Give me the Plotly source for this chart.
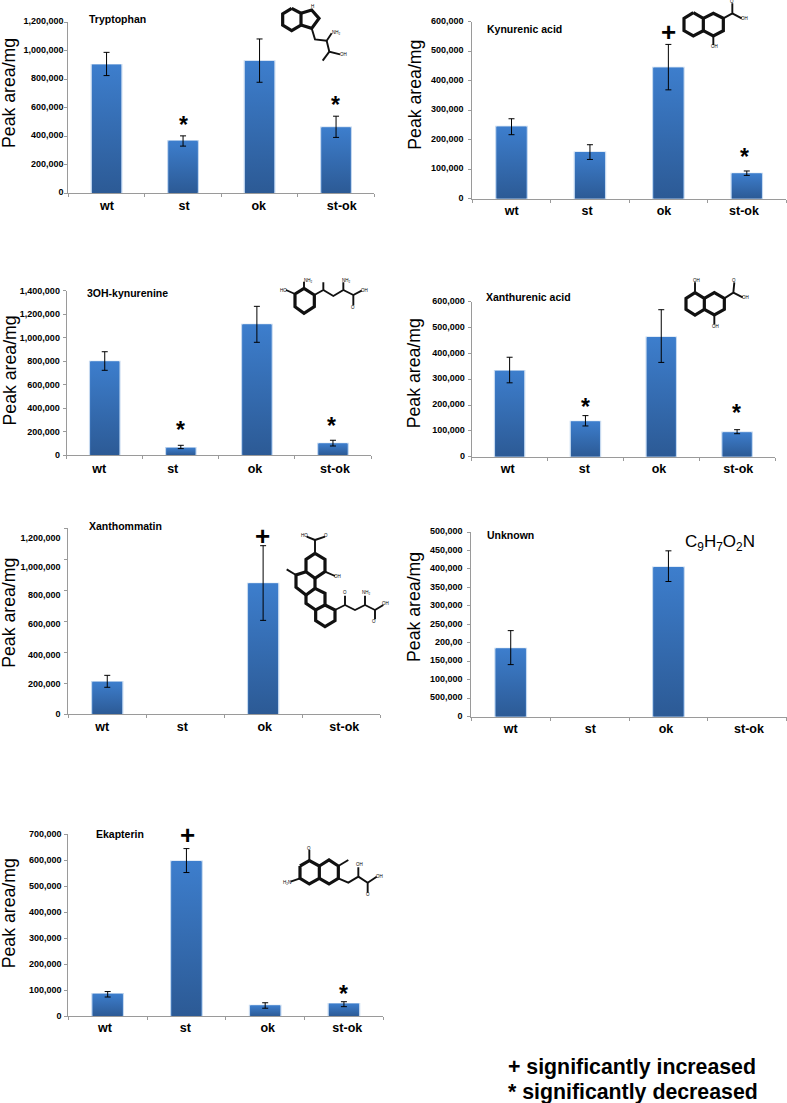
import plotly.graph_objects as go

W, H = 787, 1103
CATEGORIES = ["wt", "st", "ok", "st-ok"]
POS = [0, 1, 2, 3]
FONT = "Liberation Sans"

# ---- data ----
TRP_TICKS = [0, 200000, 400000, 600000, 800000, 1000000, 1200000]
TRP_VALUES = [901000, 366000, 927000, 462000]
TRP_HI = [987000, 401000, 1081000, 539000]
TRP_LO = [824000, 329000, 777000, 390000]

KYN_TICKS = [0, 100000, 200000, 300000, 400000, 500000, 600000]
KYN_VALUES = [245000, 158000, 445000, 86000]
KYN_HI = [271000, 183000, 523000, 94000]
KYN_LO = [217000, 133000, 369000, 79000]

OHK_TICKS = [0, 200000, 400000, 600000, 800000, 1000000, 1200000, 1400000]
OHK_VALUES = [799000, 65000, 1114000, 102000]
OHK_HI = [881000, 85000, 1267000, 128000]
OHK_LO = [723000, 57000, 961000, 79000]

XAN_TICKS = [0, 100000, 200000, 300000, 400000, 500000, 600000]
XAN_VALUES = [333000, 137000, 463000, 95000]
XAN_HI = [385000, 159000, 569000, 104500]
XAN_LO = [286000, 119000, 365000, 89000]

XOM_TICKS = [0, 200000, 400000, 600000, 800000, 1000000, 1200000]
XOM_VALUES = [210000, None, 844000, None]
XOM_HI = [251000, None, 1086000, None]
XOM_LO = [174000, None, 605000, None]

UNK_TICKS = [0, 50000, 100000, 150000, 200000, 250000, 300000, 350000, 400000, 450000, 500000]
UNK_LABELS = ["0", "500,000", "100,000", "150,000", "200,00", "250,000", "300,000",
              "350,000", "400,000", "450,000", "500,000"]
UNK_VALUES = [185000, None, 405000, None]
UNK_HI = [233000, None, 449000, None]
UNK_LO = [141000, None, 366000, None]

EKA_TICKS = [0, 100000, 200000, 300000, 400000, 500000, 600000, 700000]
EKA_VALUES = [87000, 596000, 42000, 49000]
EKA_HI = [95000, 644000, 52000, 56000]
EKA_LO = [74000, 552000, 31000, 37000]

# ---- panel layout (page pixels) ----
PANELS = [
    dict(name="Tryptophan", ticks=TRP_TICKS, v=TRP_VALUES, hi=TRP_HI, lo=TRP_LO,
         x0=68.3, x1=374.3, y0=193.0, y1=22.0, title=(89, 19.3), ytitle=(9, 93),
         xlab=[107, 184, 258.7, 341.7], gap=5.0, shift=1, xstand=1,
         marks=[("*", 183, 121.7), ("*", 335.7, 101.7)]),
    dict(name="Kynurenic acid", ticks=KYN_TICKS, v=KYN_VALUES, hi=KYN_HI, lo=KYN_LO,
         x0=472.3, x1=786.0, y0=198.7, y1=21.7, title=(486.7, 29), ytitle=(415, 94.7),
         xlab=[511.7, 587, 664, 744], gap=9.3, shift=1, xstand=0,
         marks=[("+", 668, 32), ("*", 744.3, 153)]),
    dict(name="3OH-kynurenine", ticks=OHK_TICKS, v=OHK_VALUES, hi=OHK_HI, lo=OHK_LO,
         x0=66.7, x1=371.0, y0=455.3, y1=290.7, title=(86.7, 293), ytitle=(9, 370.5),
         xlab=[99.3, 172.7, 255, 335], gap=6.7, shift=0, xstand=2,
         marks=[("*", 180, 426.7), ("*", 331.3, 422.7)]),
    dict(name="Xanthurenic acid", ticks=XAN_TICKS, v=XAN_VALUES, hi=XAN_HI, lo=XAN_LO,
         x0=471.7, x1=775.0, y0=456.7, y1=301.7, title=(486, 296.7), ytitle=(414, 373.3),
         xlab=[507.7, 584.3, 659, 738.3], gap=7.4, shift=1, xstand=0,
         marks=[("*", 585.3, 403.3), ("*", 736, 409.3)]),
    dict(name="Xanthommatin", ticks=XOM_TICKS, v=XOM_VALUES, hi=XOM_HI, lo=XOM_LO,
         x0=68.3, x1=380.0, y0=714.3, y1=528.0, title=(89.3, 526.3), ytitle=(9, 612.8),
         xlab=[102.3, 182.3, 264.7, 344.3], gap=8.3, shift=0, xstand=1,
         label_px=[0, 0.7, 3, 3, 5, 7.3, 9.7],
         marks=[("+", 262.7, 536)]),
    dict(name="Unknown", ticks=UNK_TICKS, labels=UNK_LABELS, v=UNK_VALUES, hi=UNK_HI, lo=UNK_LO,
         x0=471.3, x1=786.7, y0=716.7, y1=532.0, title=(486.7, 535), ytitle=(413.3, 606.7),
         xlab=[510.7, 590.3, 666, 749], gap=9.3, shift=1, xstand=0, marks=[]),
    dict(name="Ekapterin", ticks=EKA_TICKS, v=EKA_VALUES, hi=EKA_HI, lo=EKA_LO,
         x0=68.3, x1=383.3, y0=1016.3, y1=834.0, title=(95.7, 833.7), ytitle=(9, 913.3),
         xlab=[105, 185.3, 267.7, 347.3], gap=7.3, shift=0, xstand=0,
         marks=[("+", 187, 835), ("*", 343.3, 990)]),
]

# ---- molecule sketches: polylines in 1/3 px units with their page origin ----
MOLECULES = [
    dict(origin=(270, 0), lines=[
        [(65, 25), (93, 40), (93, 75), (65, 92), (38, 75), (38, 42), (65, 25)],
        [(93, 40), (125, 30), (147, 55), (125, 85), (93, 75)],
        [(125, 85), (135, 118), (170, 122), (185, 100)],
        [(170, 122), (178, 155), (210, 163)],
        [(178, 155), (158, 182)]],
        atoms=[("H", 127, 18), ("NH₂", 200, 98), ("OH", 220, 163)]),
    dict(origin=(670, 0), lines=[
        [(70, 38), (100, 55), (100, 92), (70, 108), (42, 92), (42, 55), (70, 38)],
        [(100, 55), (130, 40), (160, 55), (160, 92), (130, 108), (100, 92)],
        [(160, 55), (187, 40), (187, 10)],
        [(187, 40), (215, 55)],
        [(130, 108), (130, 135)]],
        atoms=[("O", 187, 4), ("OH", 224, 56), ("OH", 132, 140)]),
    dict(origin=(280, 280), lines=[
        [(45, 42), (72, 25), (103, 45), (103, 80), (72, 100), (45, 80), (45, 42)],
        [(45, 42), (18, 30)],
        [(72, 25), (72, 5)],
        [(103, 45), (130, 30), (130, 7)],
        [(130, 30), (160, 48), (190, 30), (190, 7)],
        [(190, 30), (220, 45), (220, 76)],
        [(220, 45), (245, 32)]],
        atoms=[("HO", 10, 30), ("NH₂", 84, 0), ("NH₂", 200, 0), ("O", 220, 82), ("OH", 254, 30)]),
    dict(origin=(675, 270), lines=[
        [(60, 68), (88, 85), (88, 118), (60, 135), (33, 118), (33, 85), (60, 68)],
        [(88, 85), (118, 68), (148, 85), (148, 118), (118, 135), (88, 118)],
        [(60, 68), (60, 37)],
        [(148, 85), (175, 68), (178, 37)],
        [(175, 68), (203, 82)],
        [(118, 135), (118, 163)]],
        atoms=[("OH", 65, 31), ("O", 178, 30), ("OH", 210, 82), ("OH", 122, 168)]),
    dict(origin=(0, 500), lines=[
        [(945, 160), (975, 178), (975, 215), (945, 235), (918, 215), (918, 178), (945, 160)],
        [(945, 235), (945, 265), (918, 285), (888, 262), (888, 225), (918, 215)],
        [(945, 265), (975, 280), (975, 315), (947, 330), (918, 310), (918, 285)],
        [(975, 315), (1005, 330), (1005, 362), (975, 380), (947, 362), (947, 330)],
        [(945, 160), (945, 120), (920, 110)],
        [(945, 120), (975, 110)],
        [(975, 215), (1005, 228)],
        [(888, 225), (860, 208)],
        [(1005, 330), (1035, 315), (1035, 287)],
        [(1035, 315), (1065, 330), (1095, 315), (1095, 287)],
        [(1095, 315), (1125, 330), (1125, 358)],
        [(1125, 330), (1150, 315)]],
        atoms=[("HO", 912, 107), ("O", 977, 107), ("OH", 1012, 228), ("O", 1036, 277),
               ("NH₂", 1100, 278), ("OH", 1157, 311), ("O", 1123, 363)]),
    dict(origin=(0, 810), lines=[
        [(900, 168), (928, 152), (958, 168), (958, 205), (928, 222), (900, 205), (900, 168)],
        [(958, 168), (987, 150), (1015, 168), (1015, 205), (987, 222), (958, 205)],
        [(928, 152), (928, 120)],
        [(1015, 168), (1045, 150)],
        [(900, 205), (872, 215)],
        [(1015, 205), (1045, 218), (1075, 200), (1075, 172)],
        [(1075, 200), (1103, 218), (1103, 248)],
        [(1103, 218), (1130, 200)]],
        atoms=[("O", 928, 114), ("H₂N", 860, 216), ("OH", 1078, 164), ("O", 1103, 252), ("OH", 1138, 198)]),
]

BAR_TOP, BAR_BOTTOM = "#3d7ecd", "#2c5a95"
BAR_EDGE = "#c6d9ef"
AXIS = "#9a9a9a"

fig = go.Figure()
annotations = []
layout = dict(width=W, height=H, margin=dict(l=0, r=0, t=0, b=0, pad=0, autoexpand=False), autosize=False,
              paper_bgcolor="white", plot_bgcolor="rgba(0,0,0,0)", showlegend=False,
              font=dict(family=FONT, color="black"))


def note(text, x, y, size, bold=True, xanchor="center", angle=0):
    annotations.append(dict(text=f"<b>{text}</b>" if bold else text, x=x, y=y, xref="x8", yref="y8",
                            showarrow=False, xanchor=xanchor, yanchor="middle", textangle=angle,
                            font=dict(family=FONT, size=size, color="black"), borderpad=0, borderwidth=0))


for i, p in enumerate(PANELS, start=1):
    xa, ya = f"x{i}", f"y{i}"
    top = p["ticks"][-1]
    scale = (p["y0"] - p["y1"]) / top
    cat = (p["x1"] - p["x0"]) / 4
    shown = [k for k, val in enumerate(p["v"]) if val is not None]
    xs = [POS[k] for k in shown]
    vs = [p["v"][k] for k in shown]
    fig.add_trace(go.Bar(x=xs, y=vs, width=0.4, xaxis=xa, yaxis=ya, marker=dict(
        color=BAR_TOP, line=dict(color=BAR_EDGE, width=1.2)), name=p["name"]))
    for xv, val in zip(xs, vs):
        fig.add_trace(go.Scatter(
            x=[xv - 0.19, xv - 0.19, xv + 0.19, xv + 0.19, xv - 0.19], y=[0, val, val, 0, 0],
            xaxis=xa, yaxis=ya, mode="none", fill="toself", hoverinfo="skip",
            fillgradient=dict(type="vertical", colorscale=[[0, BAR_BOTTOM], [1, BAR_TOP]])))
    fig.add_trace(go.Scatter(
        x=xs, y=vs, xaxis=xa, yaxis=ya, mode="markers", marker=dict(size=1, opacity=0),
        error_y=dict(type="data", symmetric=False,
                     array=[p["hi"][k] - p["v"][k] for k in shown],
                     arrayminus=[p["v"][k] - p["lo"][k] for k in shown],
                     color="black", thickness=1, width=3)))
    label_px = p.get("label_px", [0] * len(p["ticks"]))
    centers = [p["x0"] + cat * (k + 0.5) for k in range(4)]
    n = "" if i == 1 else str(i)
    layout[f"xaxis{n}"] = dict(
        domain=[p["x0"] / W, p["x1"] / W], range=[-0.5, 3.5], anchor=ya, showgrid=False, zeroline=False,
        showline=True, linecolor=AXIS, linewidth=1, ticks="", tickmode="array",
        tickvals=[POS[k] + (p["xlab"][k] - centers[k]) / cat for k in range(4)], ticktext=CATEGORIES,
        tickfont=dict(family=FONT, size=12.5, color="black", weight="bold"),
        ticklabelstandoff=p["xstand"],
        minor=dict(tickmode="array", tickvals=[-0.5, 0.5, 1.5, 2.5, 3.5], ticks="outside", ticklen=3,
                   tickcolor=AXIS, tickwidth=1, showgrid=False))
    layout[f"yaxis{n}"] = dict(
        domain=[1 - p["y0"] / H, 1 - p["y1"] / H], range=[0, top], anchor=xa, showgrid=False, zeroline=False,
        showline=True, linecolor=AXIS, linewidth=1, ticks="", tickmode="array",
        tickvals=[t - s / scale for t, s in zip(p["ticks"], label_px)],
        ticktext=p.get("labels", [f"{t:,}" for t in p["ticks"]]),
        tickfont=dict(family=FONT, size=9, color="black", weight="bold"),
        ticklabelshift=-p["shift"], ticklabelstandoff=max(0, round(p["gap"] - 3)),
        minor=dict(tickmode="array", tickvals=p["ticks"], ticks="outside", ticklen=3,
                   tickcolor=AXIS, tickwidth=1, showgrid=False))
    note(p["name"], p["title"][0], p["title"][1], 10.5, xanchor="left")
    note("Peak area/mg", p["ytitle"][0], p["ytitle"][1], 17.7, bold=False, angle=-90)
    for sym, mx, my in p["marks"]:
        if sym == "*":
            note("*", mx, my + 3.5, 23)
        else:
            note("+", mx, my, 26)

# full-page overlay axes for molecule sketches and free text
layout["xaxis8"] = dict(domain=[0, 1], range=[0, W], visible=False, anchor="y8", fixedrange=True)
layout["yaxis8"] = dict(domain=[0, 1], range=[H, 0], visible=False, anchor="x8", fixedrange=True)
for m in MOLECULES:
    ox, oy = m["origin"]
    for lw, group in ((3.2, [l for l in m["lines"] if len(l) >= 5]), (1.9, [l for l in m["lines"] if len(l) < 5])):
        mx, my = [], []
        for line in group:
            mx += [ox + a / 3 for a, _ in line] + [None]
            my += [oy + b / 3 for _, b in line] + [None]
        fig.add_trace(go.Scatter(x=mx, y=my, xaxis="x8", yaxis="y8", mode="lines", hoverinfo="skip",
                                 line=dict(color="#111111", width=lw)))
    for label, a, b in m["atoms"]:
        note(label, ox + a / 3, oy + b / 3, 4.5, bold=False)

annotations.append(dict(text="C<sub>9</sub>H<sub>7</sub>O<sub>2</sub>N", x=683.3, y=543, xref="x8", yref="y8",
                        showarrow=False, xanchor="left", yanchor="middle",
                        font=dict(family=FONT, size=17, color="black")))
note("+ significantly increased", 508, 1066.7, 21.3, xanchor="left")
note("* significantly decreased", 508, 1091.7, 21.3, xanchor="left")

layout["annotations"] = annotations
fig.update_layout(**layout)
fig.write_html("out.html", config={"displayModeBar": False},
               post_script="document.body.style.margin='0';document.documentElement.style.overflow='hidden';")
